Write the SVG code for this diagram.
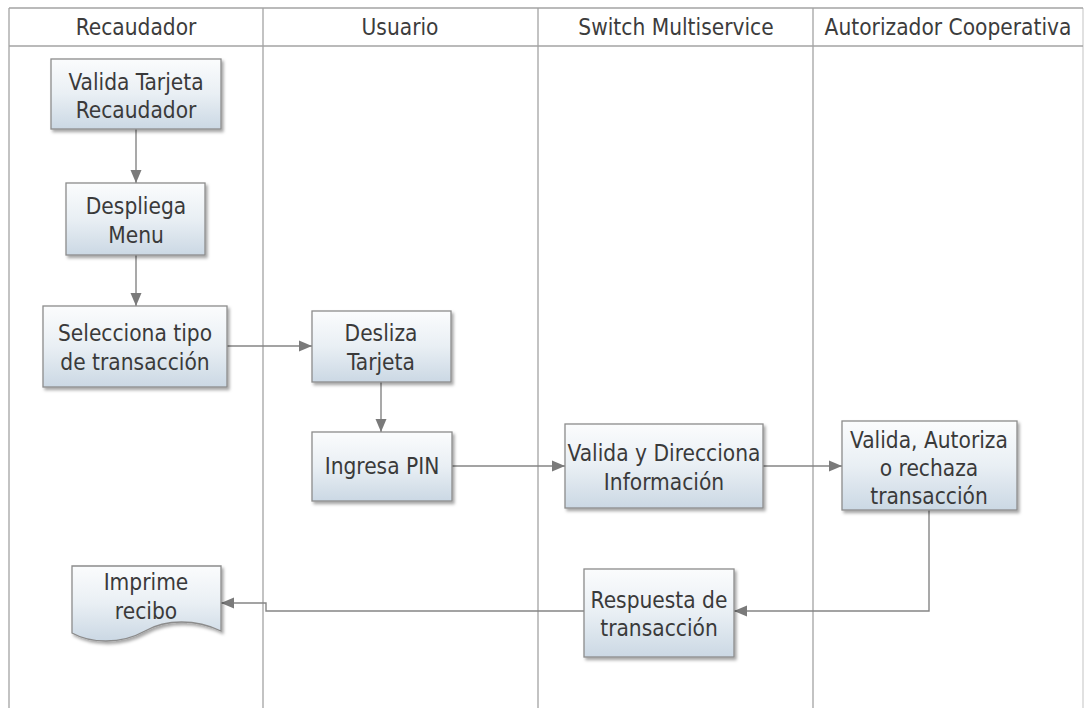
<svg xmlns="http://www.w3.org/2000/svg" width="1086" height="708" viewBox="0 0 1086 708">
  <style>
    .lane { stroke: #a3a3a3; stroke-width: 1.3; fill: none; }
    .hdr { font-family: "DejaVu Sans Condensed", "DejaVu Sans", sans-serif; font-stretch: condensed; font-size: 22.5px; fill: #3c3c3c; text-anchor: middle; }
    .box { fill: url(#boxFill); stroke: #8c8c8c; stroke-width: 1.3; filter: url(#shadow); }
    .lbl { font-family: "DejaVu Sans Condensed", "DejaVu Sans", sans-serif; font-stretch: condensed; font-size: 22.5px; fill: #3a3a3a; text-anchor: middle; }
    .conn { stroke: #858585; stroke-width: 1.4; fill: none; marker-end: url(#arrow); }
  </style>
  <defs>
    <linearGradient id="boxFill" x1="0" y1="0" x2="0" y2="1">
      <stop offset="0" stop-color="#fbfcfd"/>
      <stop offset="0.5" stop-color="#e9eff4"/>
      <stop offset="1" stop-color="#cbd8e4"/>
    </linearGradient>
    <filter id="shadow" x="-10%" y="-10%" width="125%" height="130%">
      <feDropShadow dx="2" dy="2.5" stdDeviation="1.5" flood-color="#000" flood-opacity="0.35"/>
    </filter>
    <marker id="arrow" markerUnits="userSpaceOnUse" markerWidth="14" markerHeight="12" refX="13" refY="6" orient="auto">
      <path d="M0,0.5 L13,6 L0,11.5 Z" fill="#7a7a7a"/>
    </marker>
  </defs>

  <!-- swimlane frame -->
  <g id="lanes">
    <line class="lane" x1="9" y1="8" x2="1083" y2="8"/>
    <line class="lane" x1="9" y1="46" x2="1083" y2="46"/>
    <line class="lane" x1="9" y1="8" x2="9" y2="708"/>
    <line class="lane" x1="263" y1="8" x2="263" y2="708"/>
    <line class="lane" x1="538" y1="8" x2="538" y2="708"/>
    <line class="lane" x1="813" y1="8" x2="813" y2="708"/>
    <line class="lane" x1="1083" y1="8" x2="1083" y2="708" stroke-opacity="0.5"/>
    <text class="hdr" x="136" y="35">Recaudador</text>
    <text class="hdr" x="400" y="35">Usuario</text>
    <text class="hdr" x="676" y="35">Switch Multiservice</text>
    <text class="hdr" x="948" y="35">Autorizador Cooperativa</text>
  </g>

  <!-- flow connectors -->
  <g id="connectors">
    <path class="conn" d="M136,129 V183"/>
    <path class="conn" d="M136,255 V306"/>
    <path class="conn" d="M227,346 H312"/>
    <path class="conn" d="M381,382 V432"/>
    <path class="conn" d="M452,466 H565"/>
    <path class="conn" d="M763,466 H842"/>
    <path class="conn" d="M929,510 V611 H734"/>
    <path class="conn" d="M584,611 H266 V603 H221"/>
  </g>

  <g id="valida-tarjeta">
    <rect class="box" x="51" y="59" width="170" height="70"/>
    <text class="lbl" x="136" y="90">Valida Tarjeta</text>
    <text class="lbl" x="136" y="118">Recaudador</text>
  </g>

  <g id="despliega-menu">
    <rect class="box" x="66" y="183" width="139" height="72"/>
    <text class="lbl" x="136" y="214">Despliega</text>
    <text class="lbl" x="136" y="243">Menu</text>
  </g>

  <g id="selecciona-tipo">
    <rect class="box" x="43" y="306" width="184" height="81"/>
    <text class="lbl" x="135" y="341">Selecciona tipo</text>
    <text class="lbl" x="135" y="370">de transacción</text>
  </g>

  <g id="desliza-tarjeta">
    <rect class="box" x="312" y="311" width="139" height="71"/>
    <text class="lbl" x="381" y="341">Desliza</text>
    <text class="lbl" x="381" y="370">Tarjeta</text>
  </g>

  <g id="ingresa-pin">
    <rect class="box" x="312" y="432" width="140" height="69"/>
    <text class="lbl" x="382" y="474">Ingresa PIN</text>
  </g>

  <g id="valida-direcciona">
    <rect class="box" x="565" y="424" width="198" height="84"/>
    <text class="lbl" x="664" y="461">Valida y Direcciona</text>
    <text class="lbl" x="664" y="490">Información</text>
  </g>

  <g id="valida-autoriza">
    <rect class="box" x="842" y="421" width="175" height="89"/>
    <text class="lbl" x="929" y="448">Valida, Autoriza</text>
    <text class="lbl" x="929" y="476">o rechaza</text>
    <text class="lbl" x="929" y="504">transacción</text>
  </g>

  <g id="respuesta-transaccion">
    <rect class="box" x="584" y="569" width="150" height="88"/>
    <text class="lbl" x="659" y="608">Respuesta de</text>
    <text class="lbl" x="659" y="636">transacción</text>
  </g>

  <g id="imprime-recibo">
    <path class="box" d="M72,566 H221 V631 C196,619 166,619 145,631 C120,645 90,643 72,633 Z"/>
    <text class="lbl" x="146" y="590">Imprime</text>
    <text class="lbl" x="146" y="619">recibo</text>
  </g>
</svg>
